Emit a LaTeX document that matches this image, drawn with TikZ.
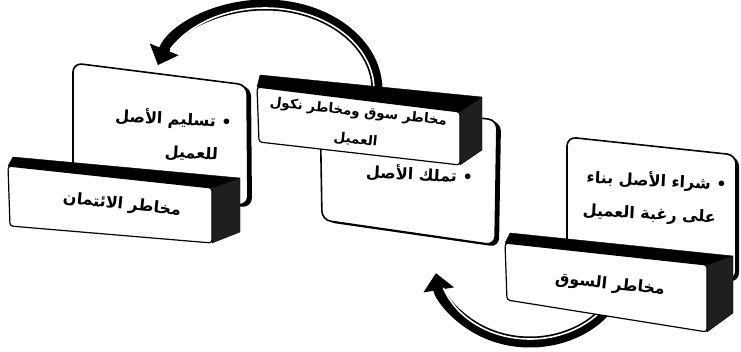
\documentclass[tikz,border=0pt]{standalone}
\usepackage{fontspec}
\usetikzlibrary{arrows.meta,calc}
\newfontfamily\arabicfont[Script=Arabic]{DejaVu Sans}
\TeXXeTstate=1

\tikzset{
  carddepth/.style={fill=black,rounded corners=9pt},
  cardface/.style={fill=white,draw=black,line width=1.6pt,rounded corners=9pt},
  boxtop/.style={fill=black,draw=black,line join=round},
  boxside/.style={fill=black!88,draw=black,line join=round},
  boxface/.style={fill=white,draw=black,line width=1.2pt,rounded corners=3pt},
  cardtext/.style={font=\arabicfont\bfseries\fontsize{16}{33}\selectfont,align=right,inner sep=0pt,rotate=-3},
  boxtext/.style={font=\arabicfont\bfseries\fontsize{16}{28}\selectfont,align=center,inner sep=0pt,rotate=-6},
  bendarrow/.style={line width=11pt,-{Triangle[length=17pt,width=30pt]}},
  glint/.style={white,line width=1.6pt,line cap=round}
}

\begin{document}
\begin{tikzpicture}[x=1pt,y=-1pt]
  \useasboundingbox (0,0) rectangle (741,351);

  % card 1 and its box
  \fill[carddepth,shift={(4,2)}] (73,63) -- (247,85) -- (248,205) -- (73,200) -- cycle;
  \draw[cardface] (73,63) -- (247,85) -- (248,205) -- (73,200) -- cycle;
  \node[cardtext,anchor=east] (deliver) at (231,138)
    {\beginR • تسليم الأصل\endR\\\beginR للعميل\endR\hspace*{12pt}};
  \draw[boxtop] (8,166) -- (13,157) -- (240,178) -- (212,188) -- cycle;
  \draw[boxside] (212,188) -- (240,178) -- (240,232) -- (212,243) -- cycle;
  \draw[boxface] (8,166) -- (212,188) -- (212,243) -- (10,226) -- cycle;
  \node[boxtext] (credit) at (122,205) {\beginR مخاطر الائتمان\endR};

  % card 2 and its box
  \fill[carddepth,shift={(4,2)}] (320,100) -- (497,120) -- (495,245) -- (322,220) -- cycle;
  \draw[cardface] (320,100) -- (497,120) -- (495,245) -- (322,220) -- cycle;
  \node[cardtext,anchor=east] (own) at (473,177) {\beginR • تملك الأصل\endR};
  \draw[boxtop] (257,87) -- (260,75) -- (482,97) -- (460,112) -- cycle;
  \draw[boxside] (460,112) -- (482,97) -- (482,150) -- (460,165) -- cycle;
  \draw[boxface] (257,87) -- (460,112) -- (460,165) -- (259,142) -- cycle;
  \node[boxtext,font=\arabicfont\bfseries\fontsize{13.5}{28}\selectfont] (default) at (357,126)
    {\beginR مخاطر سوق ومخاطر نكول\endR\\\beginR العميل\endR};

  % upper bent arrow
  \coordinate (hubA) at (265,90);
  \draw[bendarrow] ($(hubA)+(0:112 and 85)$) arc[start angle=0,end angle=-163,x radius=112,y radius=85];
  \draw[glint] ($(hubA)+(-3:109 and 82)$) arc[start angle=-3,end angle=-150,x radius=109,y radius=82];

  % lower bent arrow
  \coordinate (hubB) at (530,262);
  \draw[bendarrow] ($(hubB)+(30:95 and 80)$) arc[start angle=30,end angle=172,x radius=95,y radius=80];
  \draw[glint] ($(hubB)+(40:92 and 77)$) arc[start angle=40,end angle=160,x radius=92,y radius=77];

  % card 3 and its box
  \fill[carddepth,shift={(3,2)}] (567,137) -- (736,155) -- (736,280) -- (567,260) -- cycle;
  \draw[cardface] (567,137) -- (736,155) -- (736,280) -- (567,260) -- cycle;
  \node[cardtext,anchor=east] (buy) at (726,201)
    {\beginR • شراء الأصل بناء\endR\\\beginR على رغبة العميل\endR\hspace*{9pt}};
  \draw[boxtop] (505,243) -- (510,233) -- (733,256) -- (707,265) -- cycle;
  \draw[boxside] (707,265) -- (733,256) -- (733,313) -- (707,332) -- cycle;
  \draw[boxface] (505,243) -- (707,265) -- (707,332) -- (507,300) -- cycle;
  \node[boxtext] (market) at (610,285) {\beginR مخاطر السوق\endR};
\end{tikzpicture}
\end{document}
